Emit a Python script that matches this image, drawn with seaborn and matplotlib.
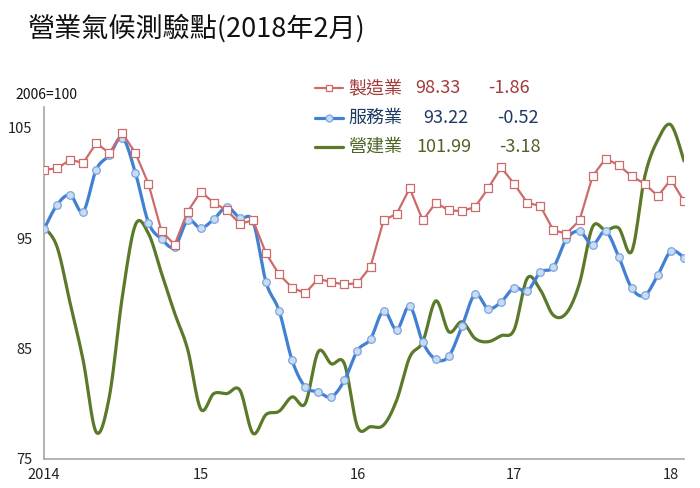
import numpy as np
import pandas as pd
import matplotlib
matplotlib.use("Agg")
import matplotlib.pyplot as plt
from matplotlib.lines import Line2D
import seaborn as sns

# ---- data (monthly, Jan 2014 .. Feb 2018) ----
manufacturing = [101.2, 101.3, 102.1, 101.8, 103.6, 102.7, 104.5, 102.7, 99.9, 95.6,
                 94.4, 97.4, 99.2, 98.2, 97.5, 96.3, 96.6, 93.6, 91.7, 90.5,
                 90.0, 91.3, 91.0, 90.8, 90.9, 92.4, 96.6, 97.2, 99.5, 96.6,
                 98.2, 97.5, 97.45, 97.8, 99.5, 101.4, 99.9, 98.2, 97.9, 95.7,
                 95.4, 96.6, 100.6, 102.2, 101.6, 100.6, 99.9, 98.8, 100.3, 98.33]
services = [95.8, 98.0, 98.9, 97.4, 101.2, 102.5, 104.1, 100.9, 96.4, 94.9,
            94.2, 96.6, 95.9, 96.7, 97.8, 96.8, 96.5, 91.0, 88.4, 83.9,
            81.5, 81.05, 80.6, 82.1, 84.8, 85.85, 88.4, 86.7, 88.8, 85.55,
            84.0, 84.3, 87.0, 89.9, 88.6, 89.2, 90.5, 90.2, 91.9, 92.35,
            94.9, 95.6, 94.4, 95.6, 93.3, 90.45, 89.8, 91.65, 93.8, 93.22]
construction = [96.0, 94.2, 89.1, 83.9, 77.4, 80.6, 89.7, 96.2, 95.4, 91.8,
                88.2, 84.9, 79.5, 80.9, 80.9, 81.2, 77.3, 79.0, 79.3, 80.6,
                80.0, 84.7, 83.6, 83.6, 77.9, 77.9, 78.05, 80.3, 84.2, 85.6,
                89.3, 86.5, 87.4, 85.9, 85.6, 86.15, 86.7, 91.35, 90.3, 88.0,
                88.2, 90.9, 96.0, 95.7, 95.9, 93.8, 100.6, 103.9, 105.25, 101.99]
month_index = list(range(len(manufacturing)))
year_ticks = [0, 12, 24, 36, 48]
year_labels = ["2014", "15", "16", "17", "18"]
series_names = ["製造業", "服務業", "營建業"]
latest_values = ["98.33", "93.22", "101.99"]
changes = ["-1.86", "-0.52", "-3.18"]
title_text = "營業氣候測驗點(2018年2月)"
base_note = "2006=100"

RED = "#CD6B6B"
BLUE = "#4180D3"
GREEN = "#5A7A2A"
AXIS_GREY = "#A6A6A6"


def smooth_path(x, y, steps=20):
    """Excel-like smoothed rendering (cubic Bezier, Catmull-Rom control points)."""
    x = np.asarray(x, float)
    y = np.asarray(y, float)
    n = len(x)
    xs, ys = [], []
    t = np.linspace(0, 1, steps, endpoint=False)
    for i in range(n - 1):
        p0 = np.array([x[i], y[i]])
        p3 = np.array([x[i + 1], y[i + 1]])
        pm = np.array([x[max(i - 1, 0)], y[max(i - 1, 0)]])
        pp = np.array([x[min(i + 2, n - 1)], y[min(i + 2, n - 1)]])
        c1 = p0 + (p3 - pm) / 6.0
        c2 = p3 - (pp - p0) / 6.0
        b = ((1 - t) ** 3)[:, None] * p0 + (3 * (1 - t) ** 2 * t)[:, None] * c1 \
            + (3 * (1 - t) * t ** 2)[:, None] * c2 + (t ** 3)[:, None] * p3
        xs.extend(b[:, 0])
        ys.extend(b[:, 1])
    xs.append(x[-1])
    ys.append(y[-1])
    return pd.DataFrame({"x": xs, "y": ys})


sns.set_theme(style="white")
plt.rcParams["font.family"] = ["Noto Sans CJK TC", "DejaVu Sans"]

fig = plt.figure(figsize=(7.0, 4.88), dpi=100)
ax = fig.add_axes([44 / 700, 1 - 458.7 / 488, (684 - 44) / 700, (458.7 - 106.7) / 488])

df_m = pd.DataFrame({"x": month_index, "y": manufacturing})
df_s = pd.DataFrame({"x": month_index, "y": services})

# construction: smooth line, no markers
sns.lineplot(data=smooth_path(month_index, construction), x="x", y="y", sort=False,
             color=GREEN, linewidth=2.3, ax=ax, zorder=2)
# services: smooth line with circle markers
sns.lineplot(data=smooth_path(month_index, services), x="x", y="y", sort=False,
             color=BLUE, linewidth=2.3, ax=ax, zorder=3)
sns.scatterplot(data=df_s, x="x", y="y", marker="o", s=30, facecolor="#C9DCF3",
                edgecolor="#7AA5E0", linewidth=0.9, ax=ax, zorder=4)
# manufacturing: straight segments with square markers
sns.lineplot(data=df_m, x="x", y="y", color=RED, linewidth=1.6, ax=ax, zorder=5)
sns.scatterplot(data=df_m, x="x", y="y", marker="s", s=26, facecolor="white",
                edgecolor=RED, linewidth=0.9, ax=ax, zorder=6)

ax.set_xlim(0, 49)
ax.set_ylim(75, 106.9)
ax.set_yticks([75, 85, 95, 105])
ax.set_yticklabels(["75", "85", "95", "105"])
ax.set_xticks(year_ticks)
ax.set_xticklabels(year_labels)
ax.set_xlabel("")
ax.set_ylabel("")
for side in ["top", "right"]:
    ax.spines[side].set_visible(False)
for side in ["left", "bottom"]:
    ax.spines[side].set_color(AXIS_GREY)
    ax.spines[side].set_linewidth(1.2)
ax.tick_params(axis="both", which="major", direction="out", length=3.5, width=1.0,
               color=AXIS_GREY, labelsize=10.5, labelcolor="#222222")
ax.tick_params(axis="y", pad=5)
ax.tick_params(axis="x", pad=3)
ax.grid(False)

# title and base note
fig.text(28 / 700, 1 - 28 / 488, title_text, fontsize=19.5, color="#111111",
         ha="left", va="center")
fig.text(15 / 700, 1 - 95 / 488, base_note, fontsize=10, color="#111111",
         ha="left", va="center")

# custom legend
rows_y = [88, 118, 147]
text_colors = ["#A23B3B", "#1E3A62", "#4F6228"]
val_x = [415, 423, 416]
chg_x = [488, 497, 499]
handles = [
    dict(color=RED, marker="s", mfc="white", mec=RED, ms=5, lw=1.6),
    dict(color=BLUE, marker="o", mfc="#C9DCF3", mec="#7AA5E0", ms=5, lw=2.3),
    dict(color=GREEN, marker=None, lw=2.3),
]
for i in range(3):
    yf = 1 - rows_y[i] / 488
    h = handles[i]
    fig.add_artist(Line2D([315 / 700, 343 / 700], [yf, yf], color=h["color"], lw=h["lw"],
                          transform=fig.transFigure))
    if h["marker"]:
        fig.add_artist(Line2D([329 / 700], [yf], marker=h["marker"], ms=h["ms"],
                              mfc=h["mfc"], mec=h["mec"], mew=0.9, lw=0,
                              transform=fig.transFigure))
    fig.text(348 / 700, yf, series_names[i], fontsize=13, color=text_colors[i],
             ha="left", va="center")
    fig.text(val_x[i] / 700, yf, latest_values[i], fontsize=13, color=text_colors[i],
             ha="left", va="center")
    fig.text(chg_x[i] / 700, yf, changes[i], fontsize=13, color=text_colors[i],
             ha="left", va="center")

fig.savefig("out.png", dpi=100, facecolor="white")
